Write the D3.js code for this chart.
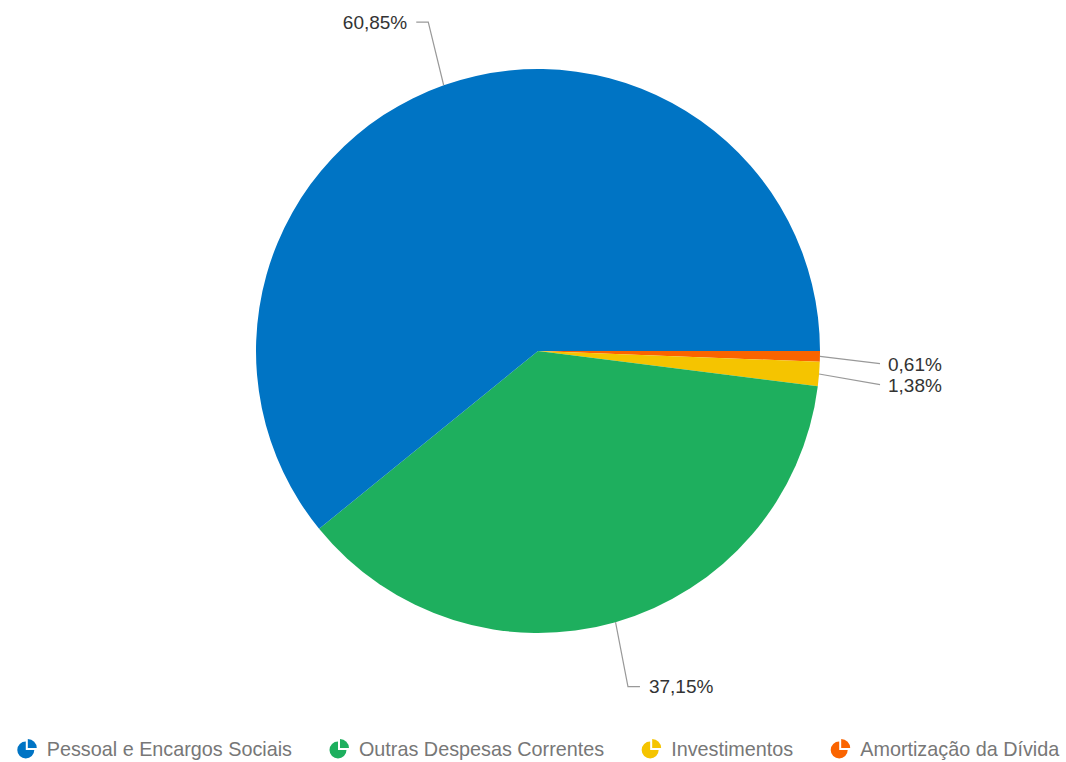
<!DOCTYPE html>
<html><head><meta charset="utf-8">
<script src="https://cdn.jsdelivr.net/npm/d3@7"></script>
<style>html,body{margin:0;padding:0;background:#fff;}svg{display:block;}</style>
</head><body>
<svg id="chart" width="1066" height="762"></svg>
<script>
// Data (clockwise from 3 o'clock)
const categories = ["Amortização da Dívida", "Investimentos", "Outras Despesas Correntes", "Pessoal e Encargos Sociais"];
const values = [0.61, 1.38, 37.15, 60.85];
const colors = ["#FA6400", "#F5C400", "#1EAF5E", "#0074C4"];
const legendOrder = ["Pessoal e Encargos Sociais", "Outras Despesas Correntes", "Investimentos", "Amortização da Dívida"];

const W = 1066, H = 762;
const cx = 538, cy = 351, r = 282;
const FONT = "'Liberation Sans', Arial, sans-serif";
const svg = d3.select("#chart");
const fmt = v => d3.format(".2f")(v).replace(".", ",") + "%";

const data = categories.map((c, i) => ({name: c, value: values[i], color: colors[i]}));
const pie = d3.pie().sort(null).value(d => d.value).startAngle(Math.PI / 2).endAngle(Math.PI / 2 + 2 * Math.PI);
const arcs = pie(data);
const arc = d3.arc().innerRadius(0).outerRadius(r);

const g = svg.append("g").attr("transform", `translate(${cx},${cy})`);
g.selectAll("path.slice").data(arcs).join("path")
  .attr("class", "slice").attr("d", arc).attr("fill", d => d.data.color);

// Labels
const R2 = 349;
const labels = arcs.map(a => {
  const m = (a.startAngle + a.endAngle) / 2;
  const sx = Math.sin(m), sy = -Math.cos(m);
  const edge = [sx * r, sy * r];
  const right = sx >= 0;
  return {a, m, sx, sy, edge, right, y: sy * R2, ex: sx * R2};
});
const rightSmall = labels.filter(l => l.right && Math.abs(l.sy) < 0.3).sort((a, b) => a.y - b.y);
let prev = -Infinity;
rightSmall.forEach((l, i) => {
  if (i === 0) l.y += 6;
  if (l.y < prev + 21) l.y = prev + 21;
  prev = l.y;
});
labels.forEach(l => {
  let pts, tx, anchor;
  if (Math.abs(l.sy) < 0.3) {
    const lx = r + 60;
    pts = [l.edge, [lx, l.y]];
    tx = lx + 8; anchor = "start";
  } else {
    const dir = l.right ? 1 : -1;
    const ex = l.ex + (l.right ? -6 : 7);
    pts = [l.edge, [ex, l.y], [ex + dir * 12, l.y]];
    tx = ex + dir * 21; anchor = l.right ? "start" : "end";
  }
  g.append("path").attr("d", d3.line()(pts))
    .attr("fill", "none").attr("stroke", "#999").attr("stroke-width", 1.2);
  g.append("text").attr("x", tx).attr("y", l.y).attr("dy", "0.36em")
    .attr("text-anchor", anchor)
    .attr("font-family", FONT).attr("font-size", 19)
    .attr("fill", "#333").text(fmt(l.a.data.value));
});

// Legend
const lg = svg.append("g");
const items = legendOrder.map(n => data.find(d => d.name === n));
const iconW = 18, gapIcon = 12, gapItem = 37;
const ly = 749;
const itemG = lg.selectAll("g.item").data(items).join("g").attr("class", "item");
const iconArc = d3.arc().innerRadius(0).outerRadius(8.5);
itemG.append("path").attr("class", "main")
  .attr("d", iconArc({startAngle: Math.PI / 2, endAngle: 2 * Math.PI}))
  .attr("transform", "translate(9,1)")
  .attr("fill", d => d.color);
itemG.append("path")
  .attr("d", d3.arc().innerRadius(0).outerRadius(9)({startAngle: 0, endAngle: Math.PI / 2}))
  .attr("transform", "translate(11,-1)")
  .attr("fill", d => d.color);
itemG.append("text").attr("x", iconW + gapIcon).attr("y", 0).attr("dy", "0.36em")
  .attr("font-family", FONT).attr("font-size", 19.8).attr("fill", "#777")
  .text(d => d.name);
let widths = [];
itemG.each(function () { widths.push(iconW + gapIcon + d3.select(this).select("text").node().getComputedTextLength()); });
const total = d3.sum(widths) + gapItem * (widths.length - 1);
let x0 = cx - total / 2;
itemG.attr("transform", (d, i) => { const x = x0; x0 += widths[i] + gapItem; return `translate(${x},${ly})`; });
</script>
</body></html>
